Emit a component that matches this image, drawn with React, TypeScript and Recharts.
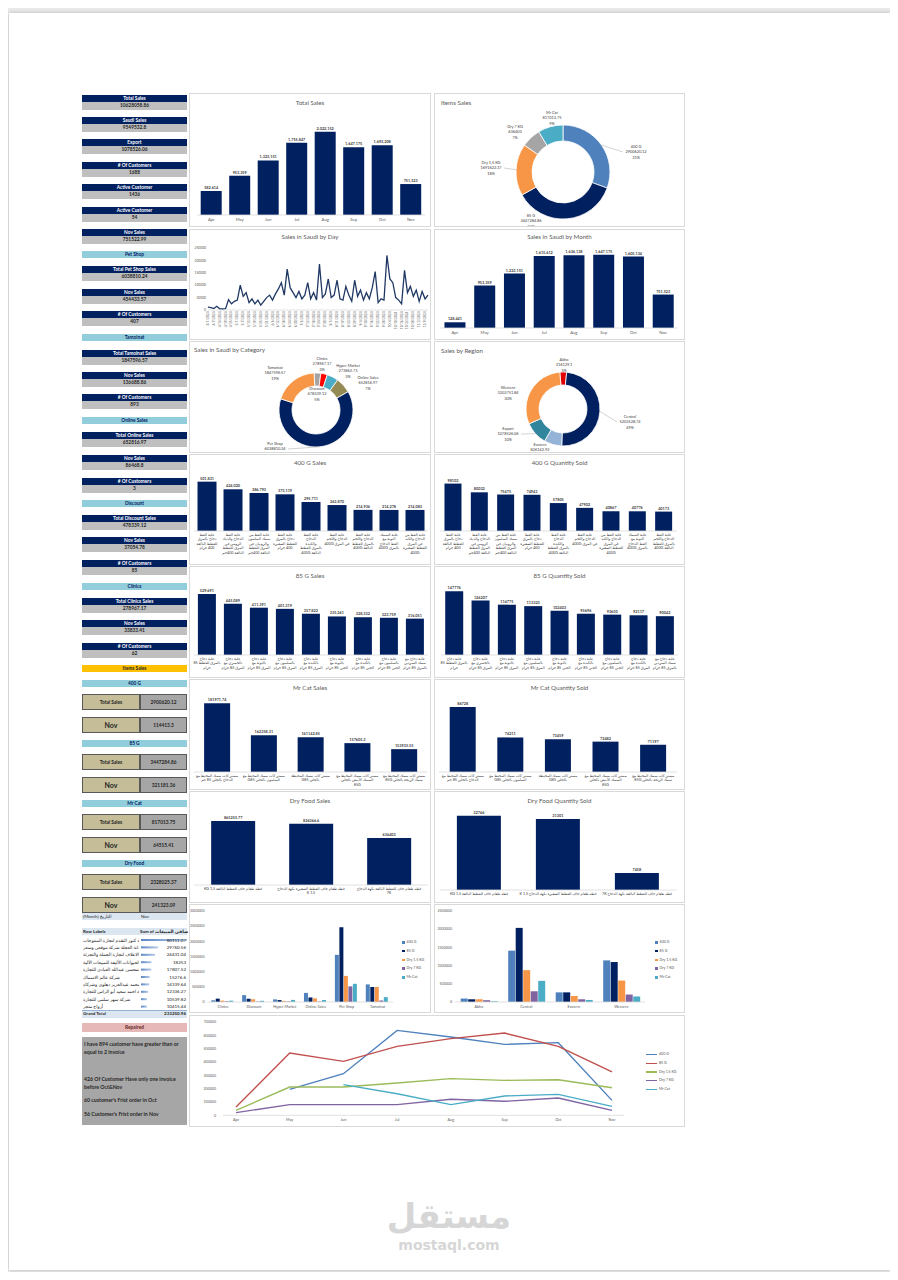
import React from "react";
import {
  Bar,
  BarChart,
  Cell,
  LabelList,
  Line,
  LineChart,
  Pie,
  PieChart,
  XAxis,
  YAxis,
} from "recharts";

const FONT = "Lato, 'DejaVu Sans', sans-serif";
const NAVY = "#002060";
const INK = "#595959";
const DARK = "#404040";

// ---- data ----
const months = ["Apr", "May", "Jun", "Jul", "Aug", "Sep", "Oct", "Nov"];
const totalSales = [582614, 953359, 1323151, 1755847, 2022152, 1647175, 1693208, 751523];
const saudiMonthly = [128441, 953359, 1223151, 1615612, 1636138, 1647175, 1605134, 751523];

const dayDates = [
  "4/1/2024", "4/4/2024", "4/7/2024", "4/10/2024", "4/13/2024", "4/16/2024", "4/19/2024", "4/22/2024", "4/25/2024", "4/28/2024",
  "5/1/2024", "5/4/2024", "5/7/2024", "5/10/2024", "5/13/2024", "5/16/2024", "5/19/2024", "5/22/2024", "5/25/2024", "5/28/2024", "5/31/2024",
  "6/3/2024", "6/6/2024", "6/9/2024", "6/12/2024", "6/15/2024", "6/18/2024", "6/21/2024", "6/24/2024", "6/27/2024", "6/30/2024",
  "7/3/2024", "7/6/2024", "7/9/2024", "7/12/2024", "7/15/2024", "7/18/2024", "7/21/2024", "7/24/2024", "7/27/2024", "7/30/2024",
  "8/2/2024", "8/5/2024", "8/8/2024", "8/11/2024", "8/14/2024", "8/17/2024", "8/20/2024", "8/23/2024", "8/26/2024", "8/29/2024",
  "9/1/2024", "9/4/2024", "9/7/2024", "9/10/2024", "9/13/2024", "9/16/2024", "9/19/2024", "9/22/2024", "9/25/2024", "9/28/2024",
  "10/1/2024", "10/4/2024", "10/7/2024", "10/10/2024", "10/13/2024", "10/16/2024", "10/19/2024", "10/22/2024", "10/25/2024", "10/28/2024", "10/31/2024",
  "11/3/2024", "11/6/2024", "11/9/2024", "11/12/2024",
];
const daySales = [
  12000, 10000, 6000, 15000, 5000, 4000, 5000, 42000, 25000, 35000,
  40000, 100000, 55000, 70000, 30000, 45000, 25000, 40000, 20000, 35000, 50000,
  60000, 40000, 65000, 85000, 110000, 60000, 165000, 90000, 70000, 50000,
  75000, 45000, 60000, 110000, 45000, 70000, 40000, 185000, 50000, 65000,
  125000, 50000, 60000, 120000, 45000, 40000, 95000, 60000, 35000, 120000,
  55000, 80000, 40000, 70000, 45000, 90000, 155000, 30000, 45000, 40000,
  220000, 125000, 110000, 50000, 40000, 25000, 160000, 70000, 95000, 55000, 80000,
  35000, 75000, 45000, 60000,
];
const dayTicks = [0, 50000, 100000, 150000, 200000, 250000];

const itemNames = ["400 G", "85 G", "Dry 1,5 KG", "Dry 7 KG", "Mr Cat"];
const itemSales = [2900620.12, 3447284.86, 1691622.37, 636403, 817013.75];
const itemPieColors = ["#4f81bd", NAVY, "#f79646", "#a5a5a5", "#4bacc6"];

const catNames = ["Clinics", "Hyper Market", "Discount", "Online Sales", "Pet Shop", "Tamoinat"];
const catSales = [278967.17, 273862.73, 478339.12, 652816.97, 6038810.24, 1847596.57];
const catColors = ["#a5a5a5", "#ff0000", "#4bacc6", "#948a54", NAVY, "#f79646"];

const regionNames = ["Abha", "Central", "Eastern", "Export", "Western"];
const regionSales = [316129.1, 5203528.74, 826142.92, 1078526.06, 3203751.84];
const regionColors = ["#e00000", NAVY, "#95b3d7", "#31859c", "#f79646"];

const g400Names = [
  "علبة القط دجاج بالمرق للقطط البالغة 400 جرام",
  "علبة القط الدجاج والديك الرومي في المرق للقطط البالغة 400جم",
  "علبة القط من سمك السلمون والروبيان في المرق للقطط البالغة 400جم",
  "علبة القط دجاج بالمرق للقطط الصغيرة 400 جرام",
  "علبة القط الدجاج والكبدة بالمرق للقطط البالغة 400G",
  "علبة القط الدجاج واللحم في المرق 400G",
  "علبة القط الدجاج واللحم بالمرق للقطط البالغة 400G",
  "علبة السمك التونة مع القط الدجاج بالمرق 400G",
  "علبة القط من الدجاج والكبد في المرق للقطط الصغيرة 400G",
];
const g400Sales = [501831, 424020, 386793, 373119, 295711, 263870, 214936, 214278, 214083];
const g400QtyNames = [
  "علبة القط دجاج بالمرق للقطط البالغة 400 جرام",
  "علبة القط الدجاج والديك الرومي في المرق للقطط البالغة 400جم",
  "علبة القط من سمك السلمون والروبيان في المرق للقطط البالغة 400جم",
  "علبة القط دجاج بالمرق للقطط الصغيرة 400 جرام",
  "علبة القط الدجاج والكبدة بالمرق للقطط البالغة 400G",
  "علبة القط الدجاج واللحم في المرق 400G",
  "علبة القط من الدجاج والكبد في المرق للقطط الصغيرة 400G",
  "علبة السمك التونة مع القط الدجاج بالمرق 400G",
  "علبة القط الدجاج واللحم بالمرق للقطط البالغة 400G",
];
const g400Qty = [98102, 80032, 75475, 74943, 57805, 47902, 40867, 40776, 40173];

const g85Names = [
  "علبة دجاج بالمرق للقطط 85 جرام",
  "علبة دجاج بالجمبري مع المرق 85 جرام",
  "علبة دجاج بالتونة مع المرق 85 جرام",
  "علبة دجاج بالسلمون مع المرق 85 جرام",
  "علبة دجاج بالكبدة مع المرق 85 جرام",
  "علبة دجاج بالتونة مع الجبن 85 جرام",
  "علبة دجاج بالكبدة مع الجبن 85 جرام",
  "علبة دجاج بالسلمون مع الجبن 85 جرام",
  "علبة دجاج مع سمك السردين بالمرق 85 جرام",
];
const g85Sales = [529691, 445089, 411391, 401319, 357822, 335261, 328332, 323759, 316051];
const g85QtyNames = [
  "علبة دجاج بالمرق للقطط 85 جرام",
  "علبة دجاج بالجمبري مع المرق 85 جرام",
  "علبة دجاج بالتونة مع المرق 85 جرام",
  "علبة دجاج بالسلمون مع المرق 85 جرام",
  "علبة دجاج بالتونة مع الجبن 85 جرام",
  "علبة دجاج بالكبدة مع الجبن 85 جرام",
  "علبة دجاج بالسلمون مع الجبن 85 جرام",
  "علبة دجاج بالكبدة مع المرق 85 جرام",
  "علبة دجاج مع سمك السردين بالمرق 85 جرام",
];
const g85Qty = [147776, 126207, 116775, 113323, 102403, 95696, 93650, 92117, 90042];

const mrCatNames = [
  "مستر كات سمك المحيط مع الدجاج بالجلي 85 جم",
  "مستر كات سمك المحيط مع السلمون بالجلي G85",
  "مستر كات سمك المحيطة بالجلي G85",
  "مستر كات سمك المحيط مع السمك الأبيض بالجلي 85G",
  "مستر كات سمك المحيط مع سمك الرنجة بالجلي 85G",
];
const mrCatSales = [181971.74, 162358.31, 161142.85, 157605.3, 153935.55];
const mrCatQty = [86728, 74211, 73459, 72482, 71197];

const dryNames = [
  "قطه طعام جاف للقطط البالغة KG 1,5",
  "قطه طعام جاف للقطط الصغيرة نكهة الدجاج 1,5 K",
  "قطه طعام جاف للقطط البالغة نكهة الدجاج 7K",
];
const drySales = [865255.77, 826366.6, 636403];
const dryQty = [32766, 31301, 7458];

const seriesNames = ["400 G", "85 G", "Dry 1,5 KG", "Dry 7 KG", "Mr Cat"];
const seriesBarColors = ["#4f81bd", NAVY, "#f79646", "#8064a2", "#4bacc6"];
const seriesLineColors = ["#4f81bd", "#c0504d", "#9bbb59", "#8064a2", "#4bacc6"];

const channels = ["Clinics", "Discount", "Hyper Market", "Online Sales", "Pet Shop", "Tamoinat"];
const ch400 = [55000, 225000, 86000, 300000, 1555000, 580000];
const ch85 = [110000, 107000, 64000, 150000, 2465000, 495000];
const chDry15 = [45000, 90000, 35000, 118000, 860000, 495000];
const chDry7 = [25000, 16000, 20000, 20000, 515000, 50000];
const chMrCat = [44000, 40000, 69000, 65000, 600000, 160000];
const channelTicks = [0, 500000, 1000000, 1500000, 2000000, 2500000, 3000000];

const regions = ["Abha", "Central", "Eastern", "Western"];
const rg400 = [95000, 1411000, 265000, 1143000];
const rg85 = [75000, 2036000, 265000, 1098000];
const rgDry15 = [75000, 875000, 165000, 589000];
const rgDry7 = [50000, 295000, 75000, 205000];
const rgMrCat = [21000, 580000, 56000, 152000];
const regionTicks = [0, 500000, 1000000, 1500000, 2000000, 2500000];

const line400 = [null, 195000, 312000, 637000, 587000, 532000, 545000, 112000];
const line85 = [62000, 467000, 405000, 517000, 575000, 617000, 517000, 325000];
const lineDry15 = [37000, 212000, 212000, 242000, 275000, 262000, 267000, 207000];
const lineDry7 = [20000, 80000, 80000, 80000, 120000, 105000, 130000, 37000];
const lineMrCat = [null, null, 230000, 162000, 80000, 145000, 157000, 67000];
const lineTicks = [0, 100000, 200000, 300000, 400000, 500000, 600000, 700000];

const pivotNames = [
  "شركة كنوز التقدم لتجارة المنتوجات",
  "مؤسسة دانة العجلة شركة موقعي وسعر",
  "شركة نهر الاعلاف لتجارة الجملة والتجزئة",
  "شركة عالم الحيوانات الأليفة للمبيعات الآلية",
  "مؤسسة عبدالمحسن عبدالله العبادي للتجارة",
  "شركة عالم الاسماك",
  "مؤسسة عالم محمد عبدالعزيز دهلوي وشركاه",
  "مؤسسة احمد سعيد أبو الراس للتجارة",
  "شركة سهر سلمي للتجارة",
  "أرواح متجر",
];
const pivotValues = [80111.07, 29760.56, 24431.04, 18253, 17807.52, 15276.6, 14339.64, 12336.27, 10539.82, 10415.44];
const pivotTotal = "233250.96";

// ---- helpers ----
const comma = (v: number) => v.toLocaleString("en-US", { maximumFractionDigits: 0 });

function wrap(text: string, max: number) {
  const words = text.split(" ");
  const lines: string[] = [];
  let cur = "";
  for (const w of words) {
    if (cur && (cur + " " + w).length > max) {
      lines.push(cur);
      cur = w;
    } else cur = cur ? cur + " " + w : w;
  }
  if (cur) lines.push(cur);
  return lines;
}

function WrapTick(props: any) {
  const { x, y, payload, wrapAt } = props;
  const lines = wrap(String(payload.value), wrapAt);
  return (
    <text x={x} y={y} textAnchor="middle" fontSize={3.7} fill={DARK} fontFamily={FONT} direction="rtl">
      {lines.map((l, i) => (
        <tspan key={i} x={x} dy={i === 0 ? 4 : 4.6}>
          {l}
        </tspan>
      ))}
    </text>
  );
}

function DateTick(props: any) {
  const { x, y, payload } = props;
  return (
    <text
      x={x}
      y={y}
      transform={`rotate(-90 ${x} ${y})`}
      textAnchor="end"
      dominantBaseline="central"
      fontSize={3.2}
      fill={INK}
      fontFamily={FONT}
    >
      {payload.value}
    </text>
  );
}

function Panel({ x, y, w, h, children }: any) {
  return (
    <div
      style={{
        position: "absolute",
        left: x,
        top: y,
        width: w,
        height: h,
        background: "#fff",
        border: "1px solid #d9d9d9",
        boxSizing: "border-box",
      }}
    >
      {children}
    </div>
  );
}

function Title({ text, top, left }: any) {
  return (
    <div
      style={{
        position: "absolute",
        top,
        left: left ?? 0,
        width: left === undefined ? "100%" : "auto",
        textAlign: left === undefined ? "center" : "left",
        fontSize: 6.2,
        lineHeight: "8px",
        color: INK,
        whiteSpace: "nowrap",
        zIndex: 2,
      }}
    >
      {text}
    </div>
  );
}

function Columns({ w, h, names, values, margin, domain, axisH, gap, fmt, wrapAt }: any) {
  const data = names.map((name: string, i: number) => ({ name, value: values[i] }));
  return (
    <BarChart width={w} height={h} data={data} margin={margin} barCategoryGap={gap}>
      <XAxis
        dataKey="name"
        height={axisH}
        interval={0}
        tickLine={false}
        tickSize={0}
        tickMargin={wrapAt ? 0.5 : 3}
        axisLine={{ stroke: "#d9d9d9", strokeWidth: 0.8 }}
        tick={wrapAt ? <WrapTick wrapAt={wrapAt} /> : { fontSize: 4.2, fill: INK, fontFamily: FONT }}
      />
      <YAxis hide domain={domain} allowDataOverflow />
      <Bar dataKey="value" fill={NAVY} isAnimationActive={false}>
        <LabelList
          dataKey="value"
          position="top"
          offset={2}
          formatter={fmt}
          fontSize={3.8}
          fontWeight={700}
          fill={DARK}
          fontFamily={FONT}
        />
      </Bar>
    </BarChart>
  );
}

function Donut({ w, h, cx, cy, outer, inner, names, values, colors, labelPos, leaders, startAngle }: any) {
  const total = values.reduce((a: number, b: number) => a + b, 0);
  const data = names.map((name: string, i: number) => ({ name, value: values[i] }));
  const label = (p: any) => {
    const { midAngle, outerRadius, index } = p;
    const x0 = p.cx;
    const y0 = p.cy;
    const [dx, dy] = labelPos[index];
    const lx = x0 + dx;
    const ly = y0 + dy;
    const rad = (-midAngle * Math.PI) / 180;
    const ex = x0 + outerRadius * Math.cos(rad);
    const ey = y0 + outerRadius * Math.sin(rad);
    const endX = lx + (dx > 0 ? -13 : 13);
    const pct = Math.round((values[index] / total) * 100) + "%";
    return (
      <g key={`lbl-${index}`}>
        {leaders[index] && <polyline points={`${ex},${ey} ${endX},${ly}`} fill="none" stroke="#a6a6a6" strokeWidth={0.5} />}
        <text x={lx} y={ly - 5.2} textAnchor="middle" fontSize={3.9} fill={DARK} fontFamily={FONT}>
          <tspan x={lx} dy={1.4}>{names[index]}</tspan>
          <tspan x={lx} dy={5.2}>{values[index]}</tspan>
          <tspan x={lx} dy={5.2}>{pct}</tspan>
        </text>
      </g>
    );
  };
  return (
    <PieChart width={w} height={h}>
      <Pie
        data={data}
        dataKey="value"
        nameKey="name"
        cx={cx}
        cy={cy}
        innerRadius={inner}
        outerRadius={outer}
        startAngle={startAngle}
        endAngle={startAngle - 360}
        stroke="#fff"
        strokeWidth={0.8}
        label={label}
        labelLine={false}
        isAnimationActive={false}
      >
        {data.map((d: any, i: number) => (
          <Cell key={d.name} fill={colors[i]} />
        ))}
      </Pie>
    </PieChart>
  );
}

function Grouped({ w, h, cats, series, margin, yW, domain, ticks }: any) {
  const data = cats.map((c: string, i: number) => {
    const row: any = { name: c };
    series.forEach((s: any) => (row[s.name] = s.values[i]));
    return row;
  });
  return (
    <BarChart width={w} height={h} data={data} margin={margin} barCategoryGap="12%" barGap={0.5}>
      <XAxis
        dataKey="name"
        height={10}
        interval={0}
        tickLine={false}
        tickSize={0}
        tickMargin={3}
        axisLine={{ stroke: "#d9d9d9", strokeWidth: 0.8 }}
        tick={{ fontSize: 3.8, fill: INK, fontFamily: FONT }}
      />
      <YAxis
        width={yW}
        domain={domain}
        ticks={ticks}
        interval={0}
        tickSize={0}
        tickMargin={3}
        axisLine={false}
        tickLine={false}
        tick={{ fontSize: 3.6, fill: INK, fontFamily: FONT }}
      />
      {series.map((s: any) => (
        <Bar key={s.name} dataKey={s.name} fill={s.color} isAnimationActive={false} />
      ))}
    </BarChart>
  );
}

function SeriesLegend({ left, top, colors, line }: any) {
  return (
    <div style={{ position: "absolute", left, top, fontSize: 3.6, color: INK, lineHeight: "8.8px" }}>
      {seriesNames.map((n, i) => (
        <div key={n} style={{ display: "flex", alignItems: "center", height: 8.8, whiteSpace: "nowrap" }}>
          <span
            style={{
              display: "inline-block",
              width: line ? 11 : 2.6,
              height: line ? 1.3 : 2.6,
              background: colors[i],
              marginRight: 2,
            }}
          />
          {n}
        </div>
      ))}
    </div>
  );
}

// ---- sidebar pieces ----
const cellBase: any = {
  position: "absolute",
  left: 82,
  width: 105,
  fontSize: 4.8,
  fontWeight: 700,
  textAlign: "center",
  whiteSpace: "nowrap",
  overflow: "hidden",
};

function Card({ top, label, value }: any) {
  return (
    <>
      <div style={{ ...cellBase, top, height: 7, lineHeight: "7px", background: NAVY, color: "#fff" }}>{label}</div>
      <div style={{ ...cellBase, top: top + 7, height: 7.5, lineHeight: "7.5px", background: "#bfbfbf", color: "#262626" }}>
        {value}
      </div>
    </>
  );
}

function Head({ top, text, bg }: any) {
  return (
    <div style={{ ...cellBase, top, height: 7, lineHeight: "7px", background: bg ?? "#92cddc", color: bg ? "#262626" : NAVY }}>
      {text}
    </div>
  );
}

function ItemBox({ top, label, value, big }: any) {
  const box: any = {
    position: "absolute",
    top,
    height: 15.5,
    border: "0.8px solid #595959",
    boxSizing: "border-box",
    display: "flex",
    alignItems: "center",
    justifyContent: "center",
    fontWeight: 700,
    color: "#262626",
  };
  return (
    <>
      <div style={{ ...box, left: 82, width: 58, background: "#c4bd97", fontSize: big ? 7 : 4.8 }}>{label}</div>
      <div style={{ ...box, left: 140, width: 47, background: "#a6a6a6", fontSize: 4.8 }}>{value}</div>
    </>
  );
}

function Sidebar() {
  return (
    <>
      <Card top={95} label="Total Sales" value="10628058.86" />
      <Card top={117} label="Saudi Sales" value="9549532.8" />
      <Card top={139} label="Export" value="1078526.06" />
      <Card top={162} label="# Of Customers" value="1688" />
      <Card top={184} label="Active Customer" value="1436" />
      <Card top={207} label="Active Customer" value="54" />
      <Card top={229} label="Nov Sales" value="751522.99" />
      <Head top={251} text="Pet Shop" />
      <Card top={266} label="Total Pet Shop Sales" value="6038810.24" />
      <Card top={289} label="Nov Sales" value="454433.57" />
      <Card top={311} label="# Of Customers" value="407" />
      <Head top={334} text="Tamoinat" />
      <Card top={350} label="Total Tamoinat Sales" value="1847596.57" />
      <Card top={372} label="Nov Sales" value="136688.86" />
      <Card top={394} label="# Of Customers" value="893" />
      <Head top={417} text="Online Sales" />
      <Card top={432} label="Total Online Sales" value="652816.97" />
      <Card top={455} label="Nov Sales" value="86468.8" />
      <Card top={478} label="# Of Customers" value="3" />
      <Head top={500} text="Discount" />
      <Card top={515} label="Total Discount Sales" value="478339.12" />
      <Card top={537} label="Nov Sales" value="37054.78" />
      <Card top={560} label="# Of Customers" value="85" />
      <Head top={583} text="Clinics" />
      <Card top={598} label="Total Clinics Sales" value="278967.17" />
      <Card top={620} label="Nov Sales" value="33833.41" />
      <Card top={643} label="# Of Customers" value="62" />
      <Head top={665} text="Items Sales" bg="#ffc000" />
      <Head top={680} text="400 G" />
      <ItemBox top={694} label="Total Sales" value="2900620.12" />
      <ItemBox top={717} label="Nov" value="114413.3" big />
      <Head top={740} text="85 G" />
      <ItemBox top={754} label="Total Sales" value="3447284.86" />
      <ItemBox top={777} label="Nov" value="321181.36" big />
      <Head top={800} text="Mr Cat" />
      <ItemBox top={814} label="Total Sales" value="817013.75" />
      <ItemBox top={837} label="Nov" value="64515.41" big />
      <Head top={860} text="Dry Food" />
      <ItemBox top={874} label="Total Sales" value="2328025.37" />
      <ItemBox top={897} label="Nov" value="241323.09" big />
    </>
  );
}

function Pivot() {
  const rowH = 7.4;
  const txt: any = { position: "absolute", fontSize: 4.5, lineHeight: "7px", whiteSpace: "nowrap", color: "#262626" };
  const barData = pivotNames.map((n, i) => ({ n, v: pivotValues[i] }));
  return (
    <>
      <div style={{ position: "absolute", left: 82, top: 913, width: 105, height: 7, background: "#dce6f1" }} />
      <div style={{ ...txt, left: 83, top: 913 }}>(Month) التاريخ</div>
      <div style={{ ...txt, left: 141, top: 913 }}>Nov</div>
      <div style={{ position: "absolute", left: 82, top: 928, width: 105, height: 7, background: "#dce6f1" }} />
      <div style={{ ...txt, left: 83, top: 928, fontWeight: 700 }}>Row Labels</div>
      <div style={{ ...txt, left: 140, top: 928, fontWeight: 700, width: 48, overflow: "hidden" }}>Sum of صافي المبيعات</div>
      <div style={{ position: "absolute", left: 141, top: 936 }}>
        <BarChart width={46} height={rowH * 10} data={barData} layout="vertical" margin={{ top: 0, right: 0, left: 0, bottom: 0 }}>
          <defs>
            <linearGradient id="dbar" x1="0" y1="0" x2="1" y2="0">
              <stop offset="0%" stopColor="#5b87c5" />
              <stop offset="100%" stopColor="#b7cbe8" />
            </linearGradient>
          </defs>
          <XAxis type="number" hide domain={[0, "dataMax"]} />
          <YAxis type="category" dataKey="n" hide />
          <Bar dataKey="v" fill="url(#dbar)" barSize={2} isAnimationActive={false} />
        </BarChart>
      </div>
      {pivotNames.map((n, i) => (
        <React.Fragment key={n}>
          <div style={{ ...txt, left: 83, top: 936.5 + i * rowH, width: 56, overflow: "hidden" }}>
            <span style={{ direction: "rtl", unicodeBidi: "embed", display: "inline-block" }}>{n}</span>
          </div>
          <div style={{ ...txt, left: 140, width: 46, textAlign: "right", top: 936.5 + i * rowH }}>{pivotValues[i]}</div>
        </React.Fragment>
      ))}
      <div
        style={{
          position: "absolute",
          left: 82,
          top: 1010,
          width: 105,
          height: 7,
          background: "#dce6f1",
          borderTop: "0.7px solid #95b3d7",
        }}
      />
      <div style={{ ...txt, left: 83, top: 1010, fontWeight: 700 }}>Grand Total</div>
      <div style={{ ...txt, left: 140, width: 46, textAlign: "right", top: 1010, fontWeight: 700 }}>{pivotTotal}</div>

      <div style={{ ...cellBase, top: 1023, height: 9, lineHeight: "9px", background: "#e6b8b7", color: "#632523" }}>Repaired</div>
      <div
        style={{
          position: "absolute",
          left: 82,
          top: 1037,
          width: 105,
          height: 88,
          background: "#a6a6a6",
          fontSize: 5.2,
          fontWeight: 700,
          color: "#262626",
          lineHeight: "7.6px",
        }}
      >
        <div style={{ position: "absolute", left: 2, top: 4, width: 100 }}>
          I have 894 customer have greater than or equal to 2 invoice
        </div>
        <div style={{ position: "absolute", left: 2, top: 39, width: 100 }}>
          426 Of Customer Have only one invoice before Oct&amp;Nov
        </div>
        <div style={{ position: "absolute", left: 2, top: 60 }}>60 customer's Frist order in Oct</div>
        <div style={{ position: "absolute", left: 2, top: 74 }}>56 Customer's Frist order in Nov</div>
      </div>
    </>
  );
}

export default function App() {
  const dayData = dayDates.map((d, i) => ({ d, v: daySales[i] }));
  const lineData = months.map((m, i) => ({
    m,
    "400 G": line400[i],
    "85 G": line85[i],
    "Dry 1,5 KG": lineDry15[i],
    "Dry 7 KG": lineDry7[i],
    "Mr Cat": lineMrCat[i],
  }));
  const chSeries = [ch400, ch85, chDry15, chDry7, chMrCat].map((values, i) => ({
    name: seriesNames[i],
    values,
    color: seriesBarColors[i],
  }));
  const rgSeries = [rg400, rg85, rgDry15, rgDry7, rgMrCat].map((values, i) => ({
    name: seriesNames[i],
    values,
    color: seriesBarColors[i],
  }));
  const lineSeries = [line400, line85, lineDry15, lineDry7, lineMrCat];

  return (
    <div
      style={{
        position: "relative",
        width: 898,
        height: 1280,
        margin: -8,
        background: "#e9e9e9",
        fontFamily: FONT,
        overflow: "hidden",
      }}
    >
      <div
        style={{
          position: "absolute",
          left: 9,
          top: 13,
          width: 881,
          height: 1257,
          background: "#fff",
          boxShadow: "0 0 4px rgba(0,0,0,0.22)",
        }}
      />

      <Sidebar />
      <Pivot />

      <Panel x={189} y={93} w={242} h={134}>
        <Title text="Total Sales" top={5} />
        <Columns
          w={240}
          h={132}
          names={months}
          values={totalSales}
          margin={{ top: 18, right: 5, left: 7, bottom: 0 }}
          domain={[0, 2500000]}
          axisH={11}
          gap="13%"
          fmt={comma}
        />
      </Panel>

      <Panel x={434} y={93} w={251} h={134}>
        <Title text="Items Sales" top={5} left={6} />
        <Donut
          w={249}
          h={132}
          cx={123}
          cy={73}
          outer={47}
          inner={31}
          names={itemNames}
          values={itemSales}
          colors={itemPieColors}
          startAngle={90}
          labelPos={[[73, -20], [-32, 49], [-72, -4], [-48, -40], [-11, -54]]}
          leaders={[true, false, true, false, false]}
        />
      </Panel>

      <Panel x={189} y={229} w={242} h={111}>
        <Title text="Sales in Saudi by Day" top={3} />
        <LineChart width={240} height={109} data={dayData} margin={{ top: 18, right: 2, left: 0, bottom: 0 }}>
          <XAxis
            dataKey="d"
            height={29}
            interval={1}
            tickSize={0}
            tickMargin={1.5}
            tickLine={false}
            axisLine={{ stroke: "#d9d9d9", strokeWidth: 0.8 }}
            tick={<DateTick />}
          />
          <YAxis
            width={18}
            domain={[0, 250000]}
            ticks={dayTicks}
            interval={0}
            tickSize={0}
            tickMargin={2}
            axisLine={false}
            tickLine={false}
            tick={{ fontSize: 3.3, fill: INK, fontFamily: FONT }}
          />
          <Line type="linear" dataKey="v" stroke="#1f3864" strokeWidth={1.3} dot={false} isAnimationActive={false} />
        </LineChart>
      </Panel>

      <Panel x={434} y={229} w={251} h={111}>
        <Title text="Sales in Saudi by Month" top={3} />
        <Columns
          w={249}
          h={109}
          names={months}
          values={saudiMonthly}
          margin={{ top: 9, right: 6, left: 5, bottom: 0 }}
          domain={[0, 2000000]}
          axisH={11}
          gap="15%"
          fmt={comma}
        />
      </Panel>

      <Panel x={189} y={341} w={242} h={112}>
        <Title text="Sales in Saudi by Category" top={4} left={4} />
        <Donut
          w={240}
          h={110}
          cx={121}
          cy={63}
          outer={37}
          inner={24}
          names={catNames}
          values={catSales}
          colors={catColors}
          startAngle={93}
          labelPos={[[6, -46], [32, -39], [1, -16], [52, -27], [-41, 39], [-41, -37]]}
          leaders={[false, false, false, false, true, false]}
        />
      </Panel>

      <Panel x={434} y={341} w={251} h={112}>
        <Title text="Sales by Region" top={5} left={6} />
        <Donut
          w={249}
          h={110}
          cx={123}
          cy={62}
          outer={37}
          inner={24}
          names={regionNames}
          values={regionSales}
          colors={regionColors}
          startAngle={95}
          labelPos={[[1, -44], [67, 13], [-23, 41], [-55, 25], [-55, -16]]}
          leaders={[false, true, false, true, false]}
        />
      </Panel>

      <Panel x={189} y={454} w={242} h={111}>
        <Title text="400 G Sales" top={3.5} />
        <Columns
          w={240}
          h={109}
          names={g400Names}
          values={g400Sales}
          margin={{ top: 17, right: 2, left: 4, bottom: 0 }}
          domain={[0, 600000]}
          axisH={33}
          gap="13.5%"
          fmt={comma}
          wrapAt={13}
        />
      </Panel>

      <Panel x={434} y={454} w={251} h={111}>
        <Title text="400 G Quantity Sold" top={3.5} />
        <Columns
          w={249}
          h={109}
          names={g400QtyNames}
          values={g400Qty}
          margin={{ top: 18, right: 7, left: 5, bottom: 0 }}
          domain={[0, 120000]}
          axisH={33}
          gap="17%"
          wrapAt={13}
        />
      </Panel>

      <Panel x={189} y={566} w={242} h={112}>
        <Title text="85 G Sales" top={4.5} />
        <Columns
          w={240}
          h={110}
          names={g85Names}
          values={g85Sales}
          margin={{ top: 19, right: 2, left: 4, bottom: 0 }}
          domain={[0, 600000]}
          axisH={22}
          gap="15%"
          fmt={comma}
          wrapAt={15}
        />
      </Panel>

      <Panel x={434} y={566} w={251} h={112}>
        <Title text="85 G Quantity Sold" top={4.5} />
        <Columns
          w={249}
          h={110}
          names={g85QtyNames}
          values={g85Qty}
          margin={{ top: 19, right: 6, left: 6, bottom: 0 }}
          domain={[0, 160000]}
          axisH={22}
          gap="16%"
          wrapAt={15}
        />
      </Panel>

      <Panel x={189} y={679} w={242} h={111}>
        <Title text="Mr Cat Sales" top={4} />
        <Columns
          w={240}
          h={109}
          names={mrCatNames}
          values={mrCatSales}
          margin={{ top: 10, right: 2.6, left: 3.6, bottom: 0 }}
          domain={[140000, 190000]}
          axisH={17}
          gap="22.5%"
          wrapAt={22}
        />
      </Panel>

      <Panel x={434} y={679} w={251} h={111}>
        <Title text="Mr Cat Quantity Sold" top={4} />
        <Columns
          w={249}
          h={109}
          names={mrCatNames}
          values={mrCatQty}
          margin={{ top: 19, right: 7, left: 4, bottom: 0 }}
          domain={[60000, 90000]}
          axisH={17}
          gap="22.5%"
          wrapAt={22}
        />
      </Panel>

      <Panel x={189} y={791} w={242} h={112}>
        <Title text="Dry Food Sales" top={5} />
        <Columns
          w={240}
          h={110}
          names={dryNames}
          values={drySales}
          margin={{ top: 19, right: 2, left: 4, bottom: 0 }}
          domain={[0, 1000000]}
          axisH={17}
          gap="22%"
          wrapAt={40}
        />
      </Panel>

      <Panel x={434} y={791} w={251} h={112}>
        <Title text="Dry Food Quantity Sold" top={5} />
        <Columns
          w={249}
          h={110}
          names={dryNames}
          values={dryQty}
          margin={{ top: 18.6, right: 7.5, left: 4.5, bottom: 0 }}
          domain={[0, 35000]}
          axisH={12}
          gap="22%"
          wrapAt={60}
        />
      </Panel>

      <Panel x={189} y={904} w={242} h={109}>
        <Grouped
          w={240}
          h={107}
          cats={channels}
          series={chSeries}
          margin={{ top: 6, right: 37, left: 0, bottom: 0 }}
          yW={17.5}
          domain={[0, 3000000]}
          ticks={channelTicks}
        />
        <SeriesLegend left={212} top={33} colors={seriesBarColors} />
      </Panel>

      <Panel x={434} y={904} w={251} h={109}>
        <Grouped
          w={249}
          h={107}
          cats={regions}
          series={rgSeries}
          margin={{ top: 6, right: 39, left: 0, bottom: 0 }}
          yW={20}
          domain={[0, 2500000]}
          ticks={regionTicks}
        />
        <SeriesLegend left={220} top={33} colors={seriesBarColors} />
      </Panel>

      <Panel x={189} y={1015} w={496} h={112}>
        <LineChart width={494} height={110} data={lineData} margin={{ top: 6, right: 60, left: 0, bottom: 0 }}>
          <XAxis
            dataKey="m"
            height={10.7}
            padding={{ left: 13, right: 12 }}
            interval={0}
            tickSize={0}
            tickMargin={3}
            tickLine={false}
            axisLine={{ stroke: "#d9d9d9", strokeWidth: 0.8 }}
            tick={{ fontSize: 3.8, fill: INK, fontFamily: FONT }}
          />
          <YAxis
            width={33}
            domain={[0, 700000]}
            ticks={lineTicks}
            interval={0}
            tickSize={0}
            tickMargin={7}
            axisLine={false}
            tickLine={false}
            tick={{ fontSize: 3.6, fill: INK, fontFamily: FONT }}
          />
          {lineSeries.map((_, i) => (
            <Line
              key={seriesNames[i]}
              type="linear"
              dataKey={seriesNames[i]}
              stroke={seriesLineColors[i]}
              strokeWidth={1.4}
              dot={false}
              isAnimationActive={false}
            />
          ))}
        </LineChart>
        <SeriesLegend left={456} top={34} colors={seriesLineColors} line />
      </Panel>

      <div
        style={{
          position: "absolute",
          left: 0,
          width: 898,
          top: 1196,
          textAlign: "center",
          color: "#d6d6d6",
          fontFamily: "'DejaVu Sans', sans-serif",
          fontWeight: 700,
          fontSize: 34,
          lineHeight: "40px",
        }}
      >
        مستقل
      </div>
      <div
        style={{
          position: "absolute",
          left: 0,
          width: 898,
          top: 1236,
          textAlign: "center",
          color: "#d6d6d6",
          fontFamily: "'DejaVu Sans', sans-serif",
          fontWeight: 700,
          fontSize: 14,
          lineHeight: "18px",
        }}
      >
        mostaql.com
      </div>
    </div>
  );
}
